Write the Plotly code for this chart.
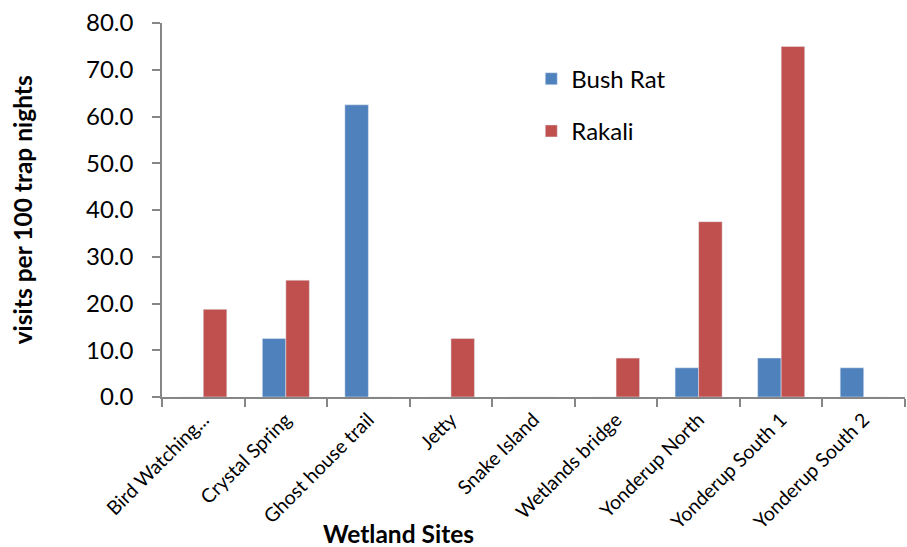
import plotly.graph_objects as go

sites = ["Bird Watching...", "Crystal Spring", "Ghost house trail", "Jetty", "Snake Island",
         "Wetlands bridge", "Yonderup North", "Yonderup South 1", "Yonderup South 2"]
bush_rat = [0, 12.5, 62.5, 0, 0, 0, 6.25, 8.33, 6.25]
rakali = [18.75, 25.0, 0, 12.5, 0, 8.33, 37.5, 75.0, 0]
y_ticks = [0, 10, 20, 30, 40, 50, 60, 70, 80]

FONT = "Lato, Carlito, Calibri, sans-serif"

fig = go.Figure()
fig.add_trace(go.Bar(x=sites, y=bush_rat, name="Bush Rat", marker_color="#4F81BD",
                     legendgroup="a"))
fig.add_trace(go.Bar(x=sites, y=rakali, name="Rakali", marker_color="#C0504D",
                     legendgroup="b"))

fig.update_layout(
    width=907, height=547,
    margin=dict(l=162, r=2, t=23, b=150),
    paper_bgcolor="white", plot_bgcolor="white",
    barmode="group", bargap=0.43, bargroupgap=0,
    font=dict(family=FONT, color="black"),
    showlegend=True,
    legend=dict(x=0.497, y=0.91, xanchor="left", yanchor="top",
                font=dict(size=24, family=FONT), tracegroupgap=18,
                bgcolor="rgba(0,0,0,0)", itemwidth=30),
    xaxis=dict(showline=True, linecolor="#868686", linewidth=1.5,
               ticks="outside", tickson="boundaries", ticklen=8, tickcolor="#868686",
               tickwidth=1.5, ticklabelstandoff=2,
               tickangle=-45, tickfont=dict(size=19.5, family=FONT), showgrid=False),
    yaxis=dict(range=[0, 80], tickvals=y_ticks, ticktext=[f"{v:.1f}" for v in y_ticks],
               showline=True, linecolor="#868686", linewidth=1.5,
               ticks="outside", ticklen=8, tickcolor="#868686", tickwidth=1.5,
               ticklabelstandoff=14,
               tickfont=dict(size=24, family=FONT), showgrid=False, zeroline=False),
    annotations=[
        dict(text="<b>Wetland Sites</b>", xref="paper", yref="paper",
             x=(398 - 162) / 743, y=-0.364, xanchor="center", yanchor="middle",
             showarrow=False, font=dict(size=24.5, family=FONT)),
        dict(text="<b>visits per 100 trap nights</b>", xref="paper", yref="paper",
             x=-0.188, y=0.5, textangle=-90, xanchor="center", yanchor="middle",
             showarrow=False, font=dict(size=24.5, family=FONT)),
    ],
)

fig.write_html("out.html")
